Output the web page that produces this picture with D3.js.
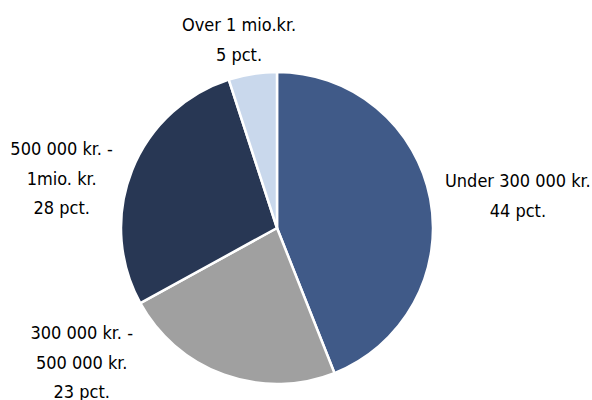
<!DOCTYPE html>
<html>
<head>
<meta charset="utf-8">
<script src="https://cdn.jsdelivr.net/npm/d3@7"></script>
<style>
  body { margin: 0; background: #fff; }
  text { font-family: "DejaVu Sans Condensed", "Liberation Sans Narrow", sans-serif; font-stretch: condensed; font-size: 18px; fill: #000; }
</style>
</head>
<body>
<div class="chart"></div>
<script>
  'use strict';

  const categories = ['Under 300 000 kr.', '300 000 kr. - 500 000 kr.', '500 000 kr. - 1mio. kr.', 'Over 1 mio.kr.'];
  const values = [44, 23, 28, 5];
  const labelLines = [
    ['Under 300 000 kr.', '44 pct.'],
    ['300 000 kr. -', '500 000 kr.', '23 pct.'],
    ['500 000 kr. -', '1mio. kr.', '28 pct.'],
    ['Over 1 mio.kr.', '5 pct.']
  ];
  const colors = ['#405a88', '#a0a0a0', '#283754', '#c9d8ec'];

  // label placement: angle (deg from top, clockwise) and distance from centre
  const labelPos = [
    { a: 82.4, r: 243 },
    { a: 235.5, r: 237 },
    { a: 283, r: 221 },
    { a: 348.6, r: 192 }
  ];

  let width = 592,
      height = 400,
      radius = 156,
      cx = 277,
      cy = 228,
      lineH = 29.5;

  let svg = d3.select('.chart')
    .append('svg')
    .attr('width', width)
    .attr('height', height);

  let g = svg.append('g')
    .attr('transform', `translate(${cx},${cy})`);

  let pie = d3.pie().sort(null).value(d => d),
      arcs = pie(values),
      arc = d3.arc().innerRadius(0).outerRadius(radius);

  g.selectAll('path')
    .data(arcs)
    .enter()
    .append('path')
    .attr('d', arc)
    .attr('fill', (d, i) => colors[i])
    .attr('stroke', '#fff')
    .attr('stroke-width', 2.5)
    .attr('stroke-linejoin', 'round');

  // labels
  let labels = g.selectAll('text.lbl')
    .data(arcs)
    .enter()
    .append('text')
    .attr('class', 'lbl')
    .attr('text-anchor', 'middle')
    .attr('transform', (d, i) => {
      let p = labelPos[i], t = p.a * Math.PI / 180;
      return `translate(${Math.sin(t) * p.r},${-Math.cos(t) * p.r})`;
    });

  labels.each(function(d, i) {
    let lines = labelLines[i],
        y0 = -(lines.length - 1) * lineH / 2;
    d3.select(this).selectAll('tspan')
      .data(lines)
      .enter()
      .append('tspan')
      .attr('x', 0)
      .attr('y', (l, j) => y0 + j * lineH)
      .attr('dy', '0.35em')
      .text(l => l);
  });
</script>
</body>
</html>
